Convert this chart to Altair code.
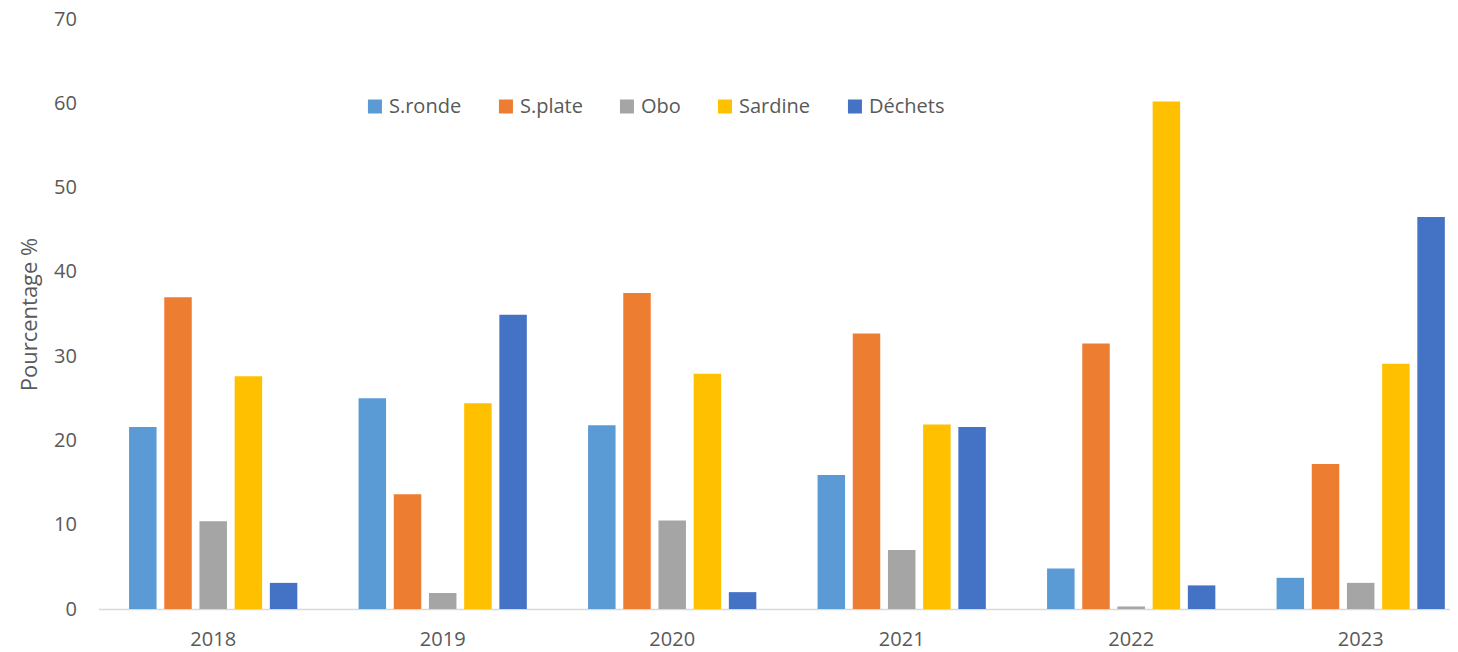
import altair as alt
import pandas as pd

years = ["2018", "2019", "2020", "2021", "2022", "2023"]
series = ["S.ronde", "S.plate", "Obo", "Sardine", "Déchets"]
colors = ["#5B9BD5", "#ED7D31", "#A5A5A5", "#FFC000", "#4472C4"]

s_ronde = [21.6, 25.0, 21.8, 15.9, 4.8, 3.7]
s_plate = [37.0, 13.6, 37.5, 32.7, 31.5, 17.2]
obo = [10.4, 1.9, 10.5, 7.0, 0.3, 3.1]
sardine = [27.6, 24.4, 27.9, 21.9, 60.2, 29.1]
dechets = [3.1, 34.9, 2.0, 21.6, 2.8, 46.5]

y_ticks = [0, 10, 20, 30, 40, 50, 60, 70]

rows = []
for name, vals in zip(series, [s_ronde, s_plate, obo, sardine, dechets]):
    for yr, v in zip(years, vals):
        rows.append({"Année": yr, "Série": name, "Valeur": v})
df = pd.DataFrame(rows)

FONT = "Open Sans"
TXT = "#595959"

chart = alt.Chart(df).mark_bar().encode(
    x=alt.X(
        "Année:N",
        sort=years,
        scale=alt.Scale(range=[0, 1377], paddingInner=0, paddingOuter=0, round=False),
        axis=alt.Axis(
            title=None, labelAngle=0, ticks=False, tickSize=0,
            domainColor="#D9D9D9", domainWidth=1.5,
            labelFontSize=20, labelColor=TXT, labelFont=FONT, labelPadding=20,
        ),
    ),
    xOffset=alt.XOffset("Série:N", sort=series,
                        scale=alt.Scale(paddingInner=0.219, paddingOuter=0.87, round=False)),
    y=alt.Y(
        "Valeur:Q",
        scale=alt.Scale(domain=[0, 70], nice=False),
        axis=alt.Axis(
            values=y_ticks, grid=False, domain=False, ticks=False, tickSize=0,
            labelFontSize=20, labelColor=TXT, labelFont=FONT, labelPadding=22,
            title="Pourcentage %", titleFont=FONT, titleFontSize=22,
            titleFontWeight="normal", titleColor=TXT,
            titleX=-68.5, titleY=295, titleAngle=-90,
            titleAlign="center", titleBaseline="middle",
        ),
    ),
    color=alt.Color(
        "Série:N",
        sort=series,
        scale=alt.Scale(domain=series, range=colors),
        legend=alt.Legend(
            orient="none", legendX=266.5, legendY=77.5,
            direction="horizontal", columns=5, title=None,
            symbolType="square", symbolSize=196, symbolStrokeWidth=0,
            labelFontSize=20, labelColor=TXT, labelFont=FONT,
            columnPadding=34, labelOffset=4, padding=0,
        ),
    ),
).properties(
    width=1350,
    height=590,
    autosize=alt.AutoSizeParams(type="none"),
    padding={"left": 90.45, "top": 11, "right": 1.55, "bottom": 43},
).configure_view(stroke=None)

chart.save("out.html", embed_options={"renderer": "svg", "actions": False})
